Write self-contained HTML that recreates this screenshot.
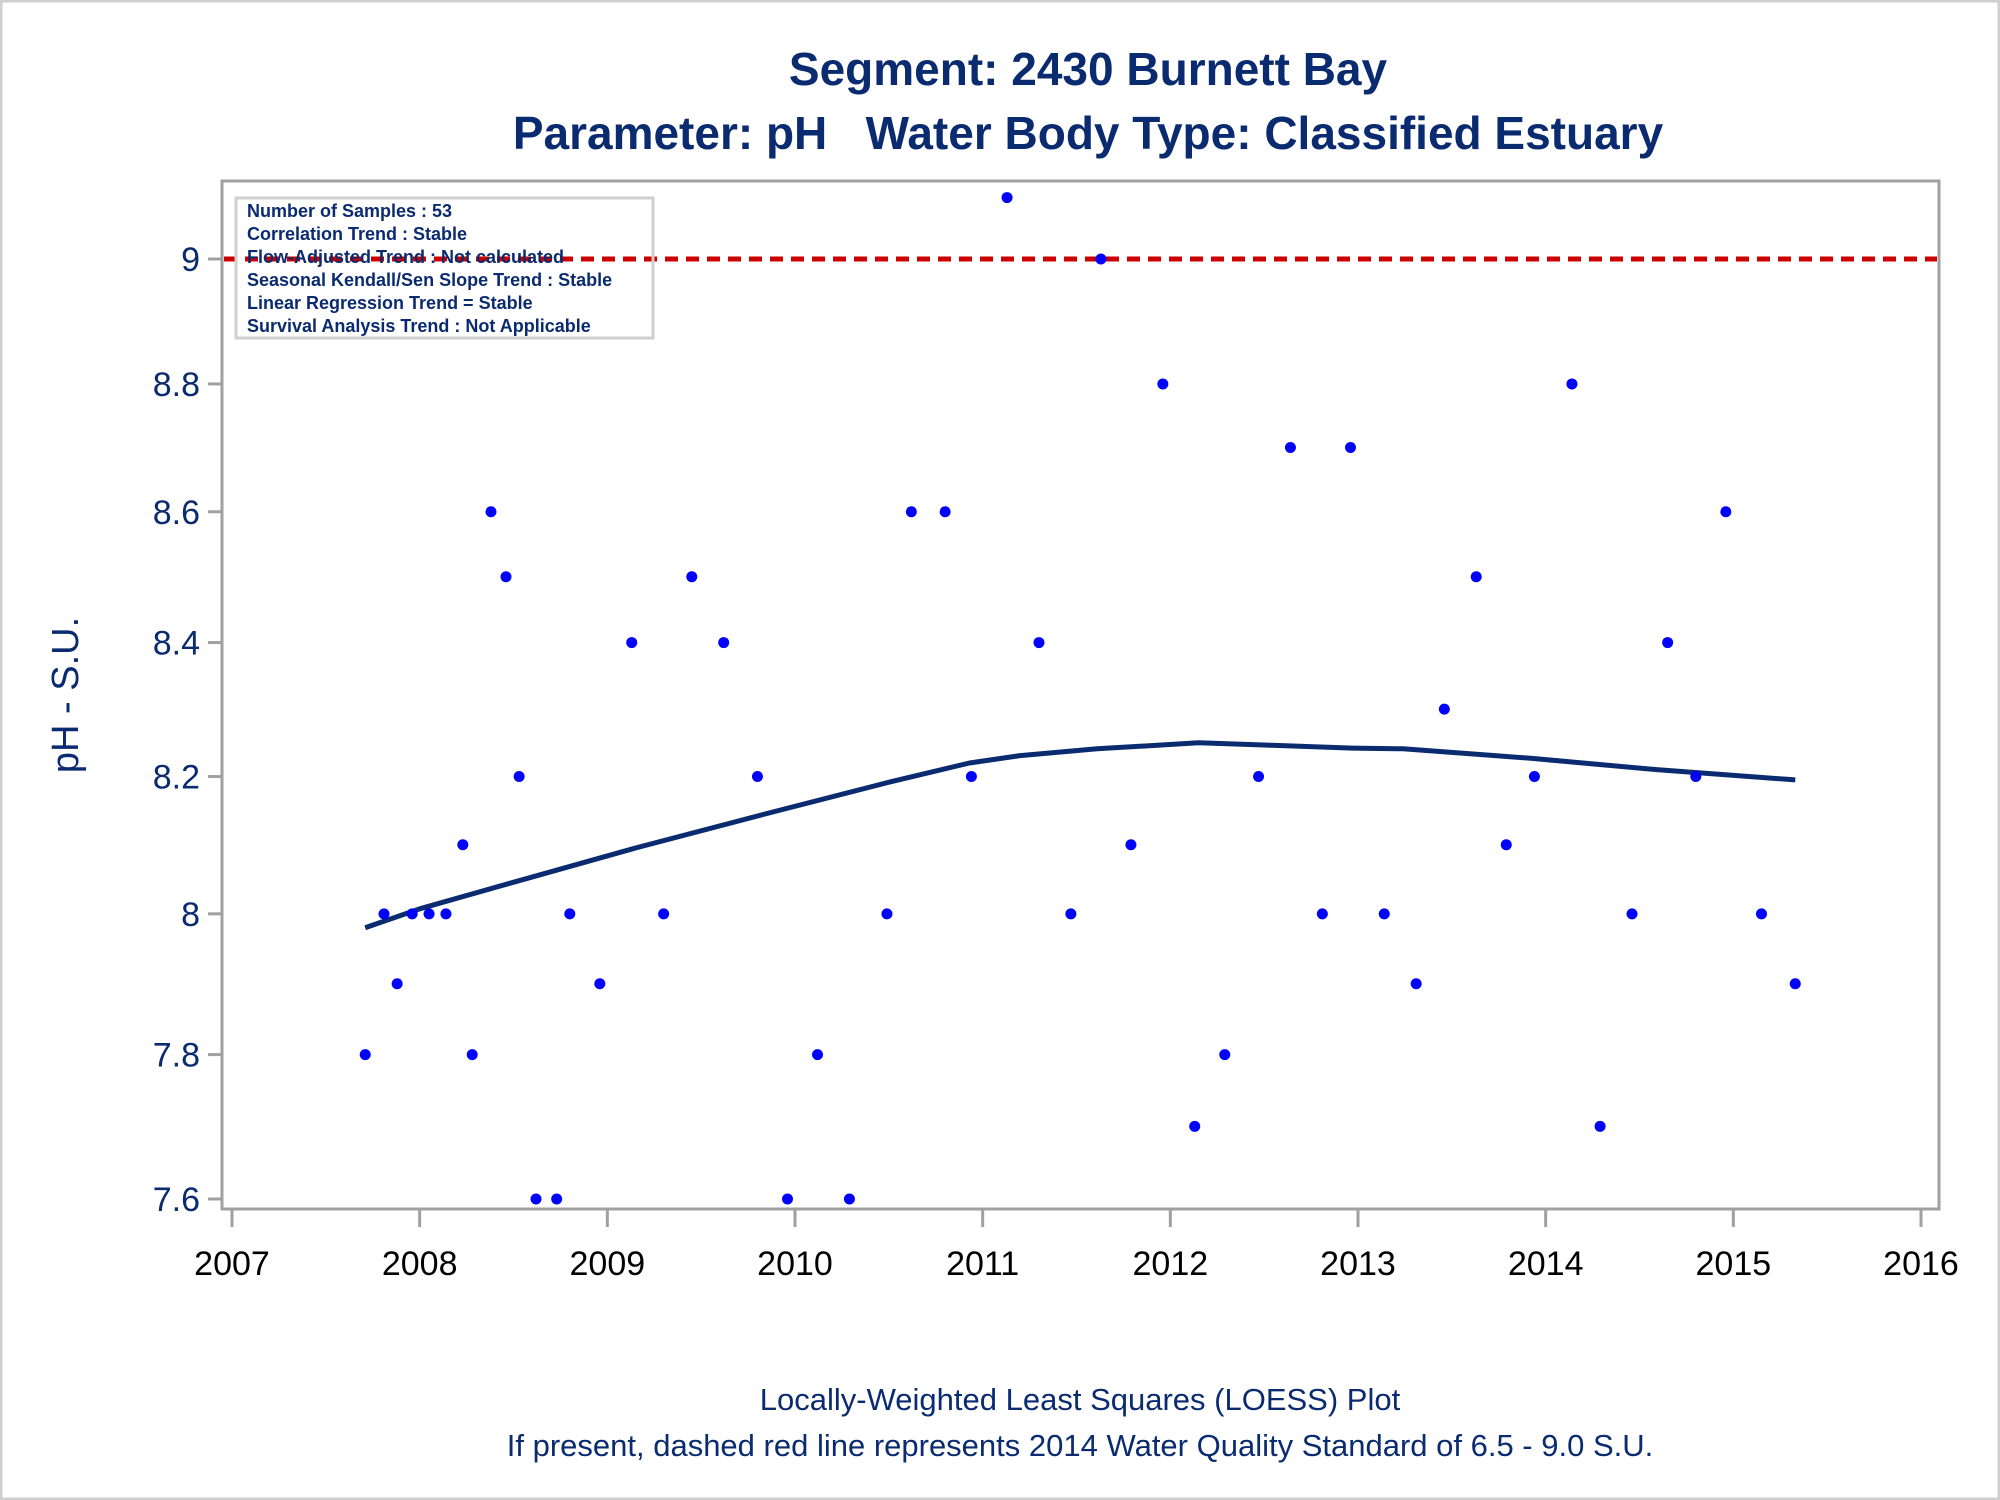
<!DOCTYPE html>
<html><head><meta charset="utf-8"><style>
html,body{margin:0;padding:0;background:#fff;}
svg{display:block;}
</style></head><body>
<svg id="chart" width="2000" height="1500" xmlns="http://www.w3.org/2000/svg">
<rect x="1" y="1" width="1998" height="1498" fill="#fff" stroke="#cfcfcf" stroke-width="3"/>
<text x="1088" y="85" text-anchor="middle" font-family="Liberation Sans, sans-serif" font-weight="bold" font-size="46" fill="#0b2b70">Segment: 2430  Burnett Bay</text>
<text x="1088" y="149" text-anchor="middle" font-family="Liberation Sans, sans-serif" font-weight="bold" font-size="46" fill="#0b2b70" xml:space="preserve">Parameter: pH   Water Body Type: Classified Estuary</text>
<text transform="translate(78,695) rotate(-90)" text-anchor="middle" font-family="Liberation Sans, sans-serif" font-size="38" fill="#0b2b70">pH - S.U.</text>
<text x="1080" y="1410" text-anchor="middle" font-family="Liberation Sans, sans-serif" font-size="31" fill="#0b2b70">Locally-Weighted Least Squares (LOESS) Plot</text>
<text x="1080" y="1456" text-anchor="middle" font-family="Liberation Sans, sans-serif" font-size="31" fill="#0b2b70">If present, dashed red line represents 2014 Water Quality Standard of 6.5 - 9.0 S.U.</text>
<g id="plot"></g>
</svg>
<script>
const yTicks = [7.6, 7.8, 8, 8.2, 8.4, 8.6, 8.8, 9];
const yTickLabels = ["7.6", "7.8", "8", "8.2", "8.4", "8.6", "8.8", "9"];
const xTicks = [2007, 2008, 2009, 2010, 2011, 2012, 2013, 2014, 2015, 2016];
const sampleDates = [2007.71,2007.81,2007.88,2007.96,2008.05,2008.14,2008.23,2008.28,2008.38,2008.46,2008.53,2008.62,2008.73,2008.80,2008.96,2009.13,2009.30,2009.45,2009.62,2009.80,2009.96,2010.12,2010.29,2010.49,2010.62,2010.80,2010.94,2011.13,2011.30,2011.47,2011.63,2011.79,2011.96,2012.13,2012.29,2012.47,2012.64,2012.81,2012.96,2013.14,2013.31,2013.46,2013.63,2013.79,2013.94,2014.14,2014.29,2014.46,2014.65,2014.80,2014.96,2015.15,2015.33];
const sampleValues = [7.8,8.0,7.9,8.0,8.0,8.0,8.1,7.8,8.6,8.5,8.2,7.6,7.6,8.0,7.9,8.4,8.0,8.5,8.4,8.2,7.6,7.8,7.6,8.0,8.6,8.6,8.2,9.1,8.4,8.0,9.0,8.1,8.8,7.7,7.8,8.2,8.7,8.0,8.7,8.0,7.9,8.3,8.5,8.1,8.2,8.8,7.7,8.0,8.4,8.2,8.6,8.0,7.9];
const loessDates = [2007.71,2008.01,2008.48,2009.16,2009.84,2010.52,2010.93,2011.20,2011.61,2012.15,2012.56,2012.97,2013.24,2013.92,2014.60,2015.33];
const loessValues = [7.980,8.008,8.044,8.096,8.145,8.193,8.220,8.231,8.241,8.250,8.246,8.242,8.241,8.227,8.210,8.195];
const standardValue = 9.0;
const legendLines = ["Number of Samples : 53","Correlation Trend : Stable","Flow-Adjusted Trend : Not calculated","Seasonal Kendall/Sen Slope Trend : Stable","Linear Regression Trend = Stable","Survival Analysis Trend : Not Applicable"];

const NS = "http://www.w3.org/2000/svg";
const L = 222, R = 1939, T = 181, B = 1209;
const X0 = 232, X1 = 1921;
const Y9 = 259, Y76 = 1199;
function xs(t){ return X0 + (t - 2007) / 9 * (X1 - X0); }
function ys(v){ return Y9 + (Math.log(9) - Math.log(v)) / (Math.log(9) - Math.log(7.6)) * (Y76 - Y9); }
const g = document.getElementById('plot');
function mk(tag, attrs, parent){
  const e = document.createElementNS(NS, tag);
  for (const k in attrs) e.setAttribute(k, attrs[k]);
  (parent || g).appendChild(e);
  return e;
}
const frame = mk('rect', {x:L, y:T, width:R-L, height:B-T, fill:'none', stroke:'#a0a0a0', 'stroke-width':3});



yTicks.forEach((v, i) => {
  const y = ys(v);
  const tk = mk('line', {x1:L-14, x2:L, y1:y, y2:y, stroke:'#a0a0a0', 'stroke-width':3});
  
  
  const tx = mk('text', {x:L-22, y:y+12, 'text-anchor':'end', 'font-family':'Liberation Sans, sans-serif', 'font-size':34, fill:'#0b2b70'});
  tx.textContent = yTickLabels[i];
  
  
});
xTicks.forEach(t => {
  const x = xs(t);
  const tk = mk('line', {x1:x, x2:x, y1:B, y2:B+18, stroke:'#a0a0a0', 'stroke-width':3});
  
  
  const tx = mk('text', {x:x, y:1275, 'text-anchor':'middle', 'font-family':'Liberation Sans, sans-serif', 'font-size':34, fill:'#000'});
  tx.textContent = String(t);
  
  
});

const std = mk('line', {x1:L+2, x2:R-2, y1:ys(standardValue), y2:ys(standardValue), stroke:'#cc0000', 'stroke-width':5, 'stroke-dasharray':'13 8'});



const lg = mk('rect', {x:236, y:198, width:417, height:140, fill:'#fff', 'fill-opacity':0.0, stroke:'#d0d0d0', 'stroke-width':3});


legendLines.forEach((s, i) => {
  const tx = mk('text', {x:247, y:217 + i*23, 'font-family':'Liberation Sans Narrow, Liberation Sans, sans-serif', 'font-weight':'bold', 'font-size':18, fill:'#0b2b70'});
  tx.textContent = s;
  
  
});

let d = '';
loessDates.forEach((t, i) => { d += (i ? 'L' : 'M') + xs(t).toFixed(1) + ' ' + ys(loessValues[i]).toFixed(1) + ' '; });
const curve = mk('path', {d:d, fill:'none', stroke:'#0b2b70', 'stroke-width':5, 'stroke-linejoin':'round'});



sampleDates.forEach((t, i) => {
  const c = mk('circle', {cx:xs(t), cy:ys(sampleValues[i]), r:5.5, fill:'#0000ff'});
  
  
});
</script>
</body></html>
